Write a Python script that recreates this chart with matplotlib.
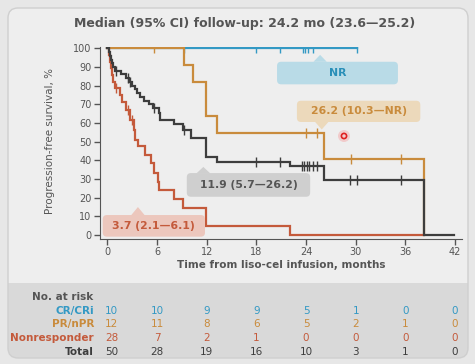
import matplotlib
matplotlib.use('Agg')
import numpy as np
import matplotlib.pyplot as plt
from matplotlib.patches import FancyBboxPatch, Polygon, Circle, Rectangle
from matplotlib.transforms import Affine2D, blended_transform_factory

# Kaplan-Meier steps (months, PFS %)
cr_t = [0]
cr_s = [100]
cr_end = 30.2
cr_cens = [9.3, 18.0, 20.9, 23.6, 23.9, 24.2, 24.8, 30.2]

pr_t = [0, 9.3, 10.3, 11.9, 13.2, 26.2, 38.2]
pr_s = [100, 90.9, 81.8, 63.6, 54.5, 40.9, 0]
pr_end = 38.2
pr_cens = [5.7, 24.0, 25.3, 29.4, 35.5]

nr_t = [0, 0.15, 0.3, 0.45, 0.6, 0.75, 0.9, 1.5, 1.8, 2.2, 2.7, 3.2, 3.4, 3.7,
        4.5, 5.3, 5.7, 6.1, 6.3, 8.1, 9.1, 11.9, 22.1]
nr_s = [100, 96.4, 92.9, 89.3, 85.7, 82.1, 78.6, 75.0, 71.4, 67.0, 61.6, 56.0, 50.6, 47.6,
        42.8, 38.3, 33.3, 28.5, 24.0, 19.0, 14.5, 4.8, 0]
nr_end = 38.2
nr_cens = [1.1, 2.5, 3.0]

tot_t = [0, 0.15, 0.3, 0.45, 0.6, 0.75, 0.9, 1.7, 2.3, 2.6, 3.0, 3.3, 3.6, 4.0, 4.4,
         5.0, 5.5, 6.2, 6.4, 8.1, 9.1, 10.1, 11.9, 13.2, 22.1, 26.2, 38.2]
tot_s = [100, 98, 96, 94, 92, 90, 88, 86, 84, 82, 80, 78, 76, 74, 72,
         70, 67.8, 65.2, 61.5, 59.6, 56.2, 51.7, 41.9, 39.2, 36.9, 29.4, 0]
tot_end = 41.9
tot_cens = [1.0, 2.45, 2.7, 5.7, 9.3, 18.0, 20.9, 23.5, 23.8, 24.1, 24.4, 24.8, 25.3,
            29.3, 30.1, 35.5]

# numbers at risk
months = [0, 6, 12, 18, 24, 30, 36, 42]
risk_cr = [10, 10, 9, 9, 5, 1, 0, 0]
risk_pr = [12, 11, 8, 6, 5, 2, 1, 0]
risk_nr = [28, 7, 2, 1, 0, 0, 0, 0]
risk_tot = [50, 28, 19, 16, 10, 3, 1, 0]

blue = '#3399c4'
orange = '#c98b3c'
red = '#c45a3b'
dark = '#3d3d3d'
grey = '#555555'

fig = plt.figure(figsize=(4.75, 3.64), dpi=100)
fig.patch.set_facecolor('#e7e7e7')
pix = Affine2D().scale(1 / 475, 1 / 364) + fig.transFigure

# card background + at-risk band (behind the axes)
fig.patches.append(FancyBboxPatch((8, 6), 460, 350, boxstyle='round,pad=0,rounding_size=10',
                                  transform=pix, fc='#eeeeee', ec='none', zorder=-3))
fig.patches.append(FancyBboxPatch((8, 6), 460, 75, boxstyle='round,pad=0,rounding_size=10',
                                  transform=pix, fc='#d9d9d9', ec='none', zorder=-2))
fig.patches.append(Rectangle((8, 60), 460, 21, transform=pix, fc='#d9d9d9', ec='none', zorder=-2))
fig.patches.append(FancyBboxPatch((8, 6), 460, 350, boxstyle='round,pad=0,rounding_size=10',
                                  transform=pix, fc='none', ec='#cfcfcf', lw=1, zorder=-1))

fig.text(245 / 475, 1 - 24 / 364, 'Median (95% CI) follow-up: 24.2 mo (23.6\u201425.2)',
         ha='center', va='center', fontsize=9, fontweight='bold', color=grey)

ax = fig.add_axes([100 / 475, 1 - 239 / 364, 361.7 / 475, (239 - 47.4) / 364])
ax.patch.set_alpha(0)
ax.set_xlim(-0.88, 42.8)
ax.set_ylim(-2.25, 100.5)
for side in ['top', 'right']:
    ax.spines[side].set_visible(False)
for side in ['left', 'bottom']:
    ax.spines[side].set_color(grey)
ax.set_xticks(months)
ax.set_yticks(range(0, 101, 10))
ax.tick_params(length=4, width=1, color=grey, labelsize=7, labelcolor=grey, pad=2)


def km(t, s, end, cens, color):
    t = np.array(t, float)
    s = np.array(s, float)
    ax.step(np.append(t, end), np.append(s, s[-1]), where='post', color=color, lw=1.6,
            solid_joinstyle='miter')
    idx = np.searchsorted(t, cens, side='right') - 1
    ax.plot(cens, s[idx], ls='none', marker='|', ms=7, mew=1, color=color)


km(cr_t, cr_s, cr_end, cr_cens, blue)
km(pr_t, pr_s, pr_end, pr_cens, orange)
km(nr_t, nr_s, nr_end, nr_cens, red)
km(tot_t, tot_s, tot_end, tot_cens, dark)


def callout(text, x0, x1, y0, y1, tip_x, tip_y, fc, tc):
    ax.add_patch(FancyBboxPatch((x0, y0), x1 - x0, y1 - y0,
                                boxstyle='round,pad=0,rounding_size=0.5', mutation_aspect=4.44,
                                fc=fc, ec='none', zorder=5, clip_on=False))
    base = y1 if tip_y > y1 else y0
    ax.add_patch(Polygon([(tip_x - 0.8, base), (tip_x + 0.8, base), (tip_x, tip_y)],
                         closed=True, fc=fc, ec='none', zorder=5, clip_on=False))
    ax.text((x0 + x1) / 2, (y0 + y1) / 2, text, ha='center', va='center', fontsize=7.8,
            fontweight='bold', color=tc, zorder=6)


callout('NR', 20.5, 35.1, 80.7, 92.8, 25.7, 96.5, '#b9dbe7', '#2a8fb8')
callout('26.2 (10.3\u2014NR)', 22.9, 37.8, 60.5, 71.9, 25.9, 56.5, '#ecd9bb', orange)
callout('11.9 (5.7\u201426.2)', 9.6, 24.5, 20.4, 33.1, 11.6, 36.4, '#cfcfcf', grey)
callout('3.7 (2.1\u20146.1)', -0.55, 11.8, -1.0, 10.6, 3.7, 14.9, '#ecc7bd', red)

ax.set_xlabel('Time from liso-cel infusion, months', fontsize=7.5, fontweight='bold',
              color=grey, labelpad=2)
fig.text(50 / 475, 1 - 141 / 364, 'Progression-free survival, %', rotation=90,
         ha='center', va='center', fontsize=7.5, color=grey)

# pointer dot
fig.patches.append(Circle((344, 364 - 136), 6, transform=pix, fc='#ff4040', alpha=0.2,
                          ec='none', zorder=10))
fig.patches.append(Circle((344, 364 - 136), 2.6, transform=pix, fc='none', ec='#e02020',
                          lw=1.2, zorder=10))

# at-risk table
tab = blended_transform_factory(ax.transData, pix)
fig.text(93 / 475, 1 - 297 / 364, 'No. at risk', ha='right', va='center', fontsize=7.5,
         fontweight='bold', color=grey)
rows = [('CR/CRi', risk_cr, blue, 53),
        ('PR/nPR', risk_pr, orange, 39.7),
        ('Nonresponder', risk_nr, red, 25.7),
        ('Total', risk_tot, dark, 12.3)]
for label, vals, color, yy in rows:
    fig.text(94 / 475, yy / 364, label, ha='right', va='center', fontsize=7.5,
             fontweight='bold', color=color)
    for m, v in zip(months, vals):
        xm = m + 0.55 if m == 0 else m
        ax.text(xm, yy, str(v), transform=tab, ha='center', va='center', fontsize=7.5,
                color=color, clip_on=False)

fig.savefig('out.png', dpi=100, facecolor=fig.get_facecolor())
